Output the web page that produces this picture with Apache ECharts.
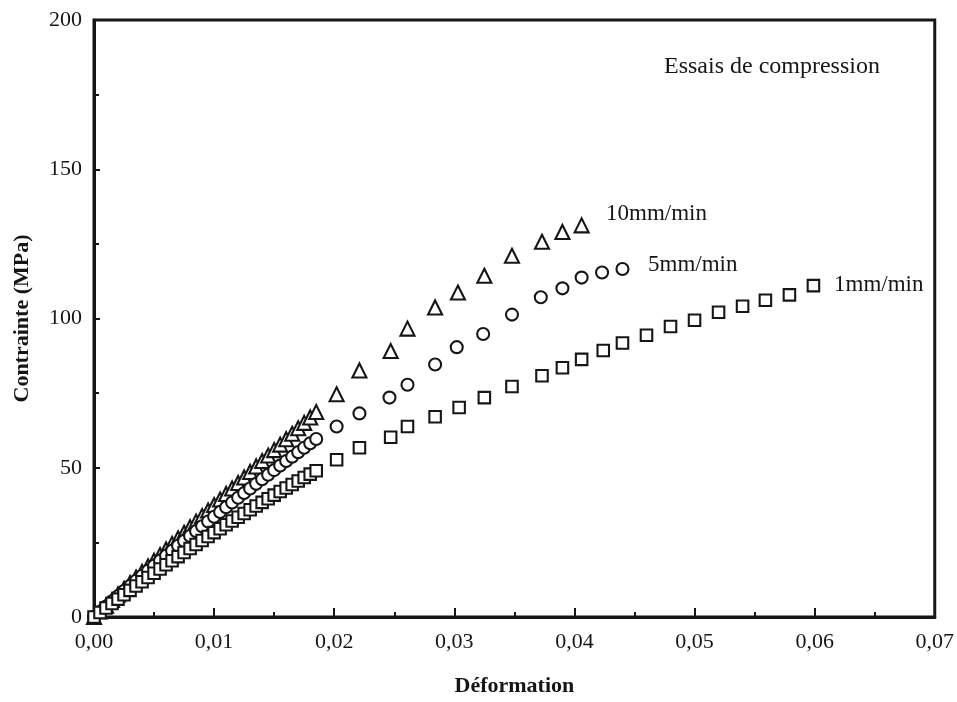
<!DOCTYPE html>
<html><head><meta charset="utf-8">
<script src="https://cdn.jsdelivr.net/npm/echarts@6/dist/echarts.min.js"></script>
<style>html,body{margin:0;padding:0;background:#fff}#c{width:957px;height:702px}</style>
</head><body><div id="c"></div>
<script>
// Déformation values (strain)
const strain10 = [0,0.0005,0.001,0.0015,0.002,0.0025,0.003,0.0035,0.004,0.0045,0.005,0.0055,0.006,0.0065,0.007,0.0075,0.008,0.0085,0.009,0.0095,0.01,0.0105,0.011,0.0115,0.012,0.0125,0.013,0.0135,0.014,0.0145,0.015,0.0155,0.016,0.0165,0.017,0.0175,0.018,0.0185,
  0.0202,0.0221,0.0247,0.0261,0.0284,0.0303,0.0325,0.0348,0.0373,0.0390,0.0406];
const stress10 = [0,1.90,3.80,5.69,7.58,9.47,11.36,13.24,15.12,17.00,18.88,20.76,22.63,24.50,26.37,28.23,30.09,31.95,33.81,35.67,37.52,39.37,41.22,43.07,44.91,46.75,48.59,50.43,52.26,54.09,55.92,57.75,59.57,61.39,63.21,65.03,66.85,68.66,
  74.6,82.6,89.1,96.6,103.7,108.7,114.3,121.0,125.7,129.0,131.2];
const strain5 = [0,0.0005,0.001,0.0015,0.002,0.0025,0.003,0.0035,0.004,0.0045,0.005,0.0055,0.006,0.0065,0.007,0.0075,0.008,0.0085,0.009,0.0095,0.01,0.0105,0.011,0.0115,0.012,0.0125,0.013,0.0135,0.014,0.0145,0.015,0.0155,0.016,0.0165,0.017,0.0175,0.018,0.0185,
  0.0202,0.0221,0.0246,0.0261,0.0284,0.0302,0.0324,0.0348,0.0372,0.0390,0.0406,0.0423,0.0440];
const stress5 = [0,1.76,3.50,5.24,6.98,8.70,10.42,12.12,13.82,15.52,17.20,18.88,20.54,22.20,23.86,25.50,27.14,28.76,30.38,32.00,33.60,35.20,36.78,38.36,39.94,41.50,43.06,44.60,46.14,47.68,49.20,50.72,52.22,53.72,55.22,56.70,58.18,59.64,
  63.8,68.2,73.5,77.8,84.6,90.4,94.8,101.3,107.1,110.1,113.7,115.4,116.6];
const strain1 = [0,0.0005,0.001,0.0015,0.002,0.0025,0.003,0.0035,0.004,0.0045,0.005,0.0055,0.006,0.0065,0.007,0.0075,0.008,0.0085,0.009,0.0095,0.01,0.0105,0.011,0.0115,0.012,0.0125,0.013,0.0135,0.014,0.0145,0.015,0.0155,0.016,0.0165,0.017,0.0175,0.018,0.0185,
  0.0202,0.0221,0.0247,0.0261,0.0284,0.0304,0.0325,0.0348,0.0373,0.0390,0.0406,0.0424,0.0440,0.0460,0.0480,0.0500,0.0520,0.0540,0.0559,0.0579,0.0599];
const stress1 = [0,1.51,3.02,4.51,6.00,7.47,8.93,10.38,11.82,13.25,14.67,16.08,17.48,18.86,20.24,21.61,22.96,24.31,25.64,26.97,28.28,29.58,30.88,32.16,33.43,34.69,35.94,37.18,38.41,39.62,40.83,42.03,43.21,44.39,45.55,46.71,47.85,48.98,
  52.7,56.7,60.2,63.8,67.1,70.2,73.5,77.2,80.8,83.5,86.3,89.3,91.8,94.4,97.3,99.4,102.1,104.1,106.1,107.9,111.0];
const seriesNames = ['10mm/min','5mm/min','1mm/min'];
const annotationText = 'Essais de compression';
const xTitle = 'Déformation';
const yTitle = 'Contrainte (MPa)';

const zip = (a,b)=>a.map((v,i)=>[v,b[i]]);
const FONT = 'Liberation Serif';
const INK = '#161616';
const chart = echarts.init(document.getElementById('c'), null, {renderer:'canvas'});
const mk = (name, sym, size, xs, ys) => ({
  name, type:'scatter', symbol:sym, symbolSize:size, data:zip(xs,ys),
  itemStyle:{color:'#fff', borderColor:INK, borderWidth:2.1, opacity:1},
  emphasis:{disabled:true}, z:3
});
const lbl = (text, x, y, size) => ({type:'text', x, y,
  style:{text, font:size+'px "Liberation Serif"', fill:INK, verticalAlign:'middle', align:'left'}});
chart.setOption({
  animation:false,
  backgroundColor:'#fff',
  grid:{left:94, right:21, top:20, bottom:81, show:true, borderColor:INK, borderWidth:3, backgroundColor:'transparent'},
  xAxis:{type:'value', min:0, max:0.07, interval:0.01,
    name:xTitle, nameLocation:'middle', nameGap:58,
    nameTextStyle:{fontFamily:FONT, fontSize:22, fontWeight:'bold', color:INK},
    axisLine:{show:true, lineStyle:{color:INK, width:3}},
    axisTick:{show:true, inside:true, length:9, lineStyle:{color:INK, width:2}},
    minorTick:{show:true, splitNumber:2, length:5, lineStyle:{color:INK, width:2}},
    splitLine:{show:false},
    axisLabel:{fontFamily:FONT, fontSize:22, color:INK, margin:14,
      formatter:v=>v.toFixed(2).replace('.',',')}
  },
  yAxis:{type:'value', min:0, max:200, interval:50,
    name:yTitle, nameLocation:'middle', nameGap:61, nameRotate:90,
    nameTextStyle:{fontFamily:FONT, fontSize:22, fontWeight:'bold', color:INK},
    axisLine:{show:true, lineStyle:{color:INK, width:3}},
    axisTick:{show:true, inside:true, length:6, lineStyle:{color:INK, width:2}},
    minorTick:{show:true, splitNumber:2, length:5, lineStyle:{color:INK, width:2}},
    splitLine:{show:false},
    axisLabel:{fontFamily:FONT, fontSize:22, color:INK, margin:12}
  },
  series:[
    mk(seriesNames[0],'triangle',14,strain10,stress10),
    mk(seriesNames[1],'circle',12,strain5,stress5),
    mk(seriesNames[2],'rect',11.5,strain1,stress1)
  ],
  graphic:[
    lbl(annotationText, 664, 67, 24),
    lbl(seriesNames[0], 606, 214, 23),
    lbl(seriesNames[1], 648, 265, 23),
    lbl(seriesNames[2], 834, 285, 23)
  ]
});
</script></body></html>
